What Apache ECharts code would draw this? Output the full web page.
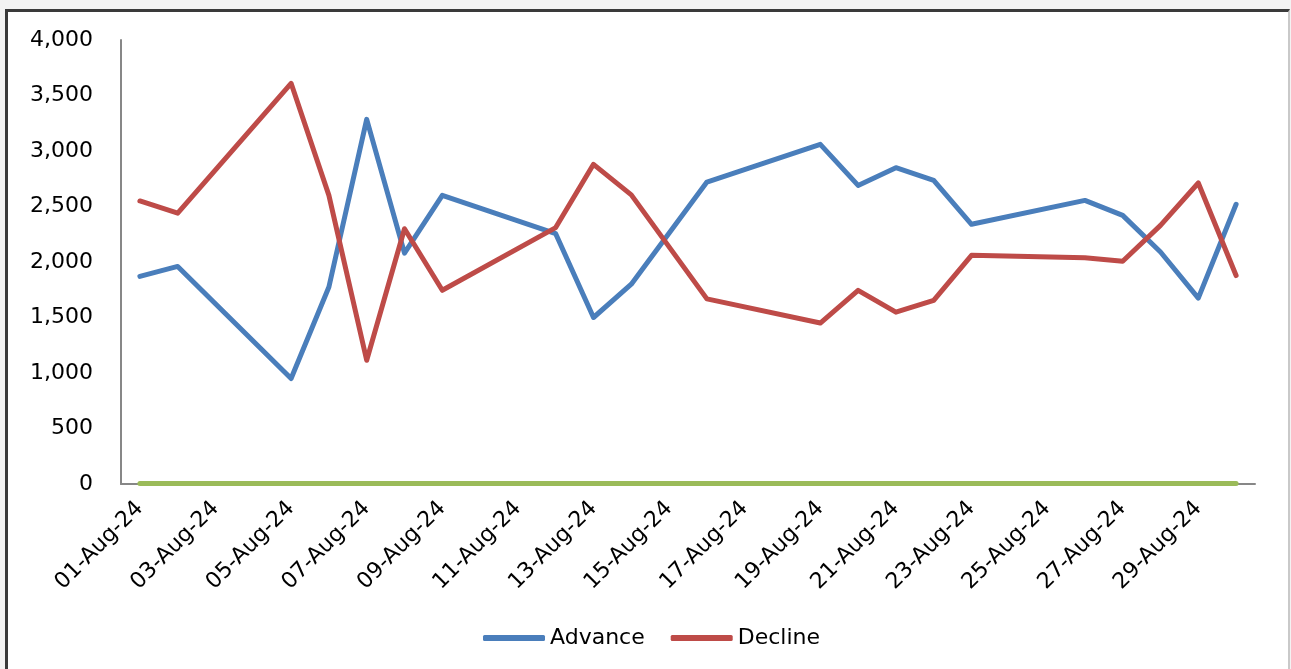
<!DOCTYPE html>
<html>
<head>
<meta charset="utf-8">
<script src="https://cdn.jsdelivr.net/npm/echarts@6/dist/echarts.min.js"></script>
<style>
  html, body { margin: 0; padding: 0; background: #f3f3f3; }
  #frame {
    position: absolute; left: 5px; top: 9px; width: 1280px; height: 680px;
    background: #fff; border-top: 3px solid #3a3a3a; border-left: 3px solid #3a3a3a;
    border-right: 2px solid #c9c9c9;
  }
  #main { position: absolute; left: 0; top: 0; width: 1291px; height: 669px; }
</style>
</head>
<body>
<div id="frame"></div>
<div id="main"></div>
<script>
  // trading days of Aug 2024; weekends/holidays are null and get bridged
  var dates = [
    '01-Aug-24', '02-Aug-24', '03-Aug-24', '04-Aug-24', '05-Aug-24', '06-Aug-24',
    '07-Aug-24', '08-Aug-24', '09-Aug-24', '10-Aug-24', '11-Aug-24', '12-Aug-24',
    '13-Aug-24', '14-Aug-24', '15-Aug-24', '16-Aug-24', '17-Aug-24', '18-Aug-24',
    '19-Aug-24', '20-Aug-24', '21-Aug-24', '22-Aug-24', '23-Aug-24', '24-Aug-24',
    '25-Aug-24', '26-Aug-24', '27-Aug-24', '28-Aug-24', '29-Aug-24', '30-Aug-24'
  ];
  var advance = [1870, 1960, null, null, 950, 1775, 3285, 2080, 2600, null, null, 2255,
    1500, 1800, null, 2720, null, null, 3060, 2690, 2850, 2735, 2340, null,
    null, 2555, 2420, 2090, 1675, 2520];
  var decline = [2550, 2440, null, null, 3610, 2600, 1115, 2300, 1745, null, null, 2310,
    2880, 2605, null, 1668, null, null, 1450, 1745, 1548, 1655, 2060, null,
    null, 2038, 2007, 2330, 2712, 1878];
  var unchanged = [5, 5, null, null, 5, 5, 5, 5, 5, null, null, 5,
    5, 5, null, 5, null, null, 5, 5, 5, 5, 5, null,
    null, 5, 5, 5, 5, 5];

  var font = 'DejaVu Sans';
  var chart = echarts.init(document.getElementById('main'));

  function line(name, data, color) {
    return {
      name: name, type: 'line', data: data, connectNulls: true,
      symbol: 'none', animation: false,
      lineStyle: { width: 5, color: color, cap: 'round', join: 'round' },
      itemStyle: { color: color }
    };
  }

  chart.setOption({
    textStyle: { fontFamily: font },
    grid: { left: 121, right: 36, top: 40, bottom: 185 },
    legend: {
      data: ['Advance', 'Decline'],
      left: 478, top: 622,
      icon: 'roundRect', itemWidth: 62, itemHeight: 6, itemGap: 26,
      textStyle: { fontSize: 22, color: '#000', fontFamily: font }
    },
    xAxis: {
      type: 'category', data: dates, boundaryGap: true,
      axisLine: { lineStyle: { color: '#878787', width: 2 } },
      axisTick: { show: false },
      axisLabel: { interval: 1, rotate: 45, margin: 21, fontSize: 22, color: '#000' }
    },
    yAxis: {
      type: 'value', min: 0, max: 4000, interval: 500,
      axisLine: { show: true, lineStyle: { color: '#878787', width: 2 } },
      axisTick: { show: false },
      splitLine: { show: false },
      axisLabel: {
        margin: 28, fontSize: 22, color: '#000',
        formatter: function (v) { return v.toLocaleString('en-US'); }
      }
    },
    series: [
      line('Advance', advance, '#4a7ebb'),
      line('Decline', decline, '#be4b48'),
      line('Unchanged', unchanged, '#9bbb59')
    ]
  });
</script>
</body>
</html>
